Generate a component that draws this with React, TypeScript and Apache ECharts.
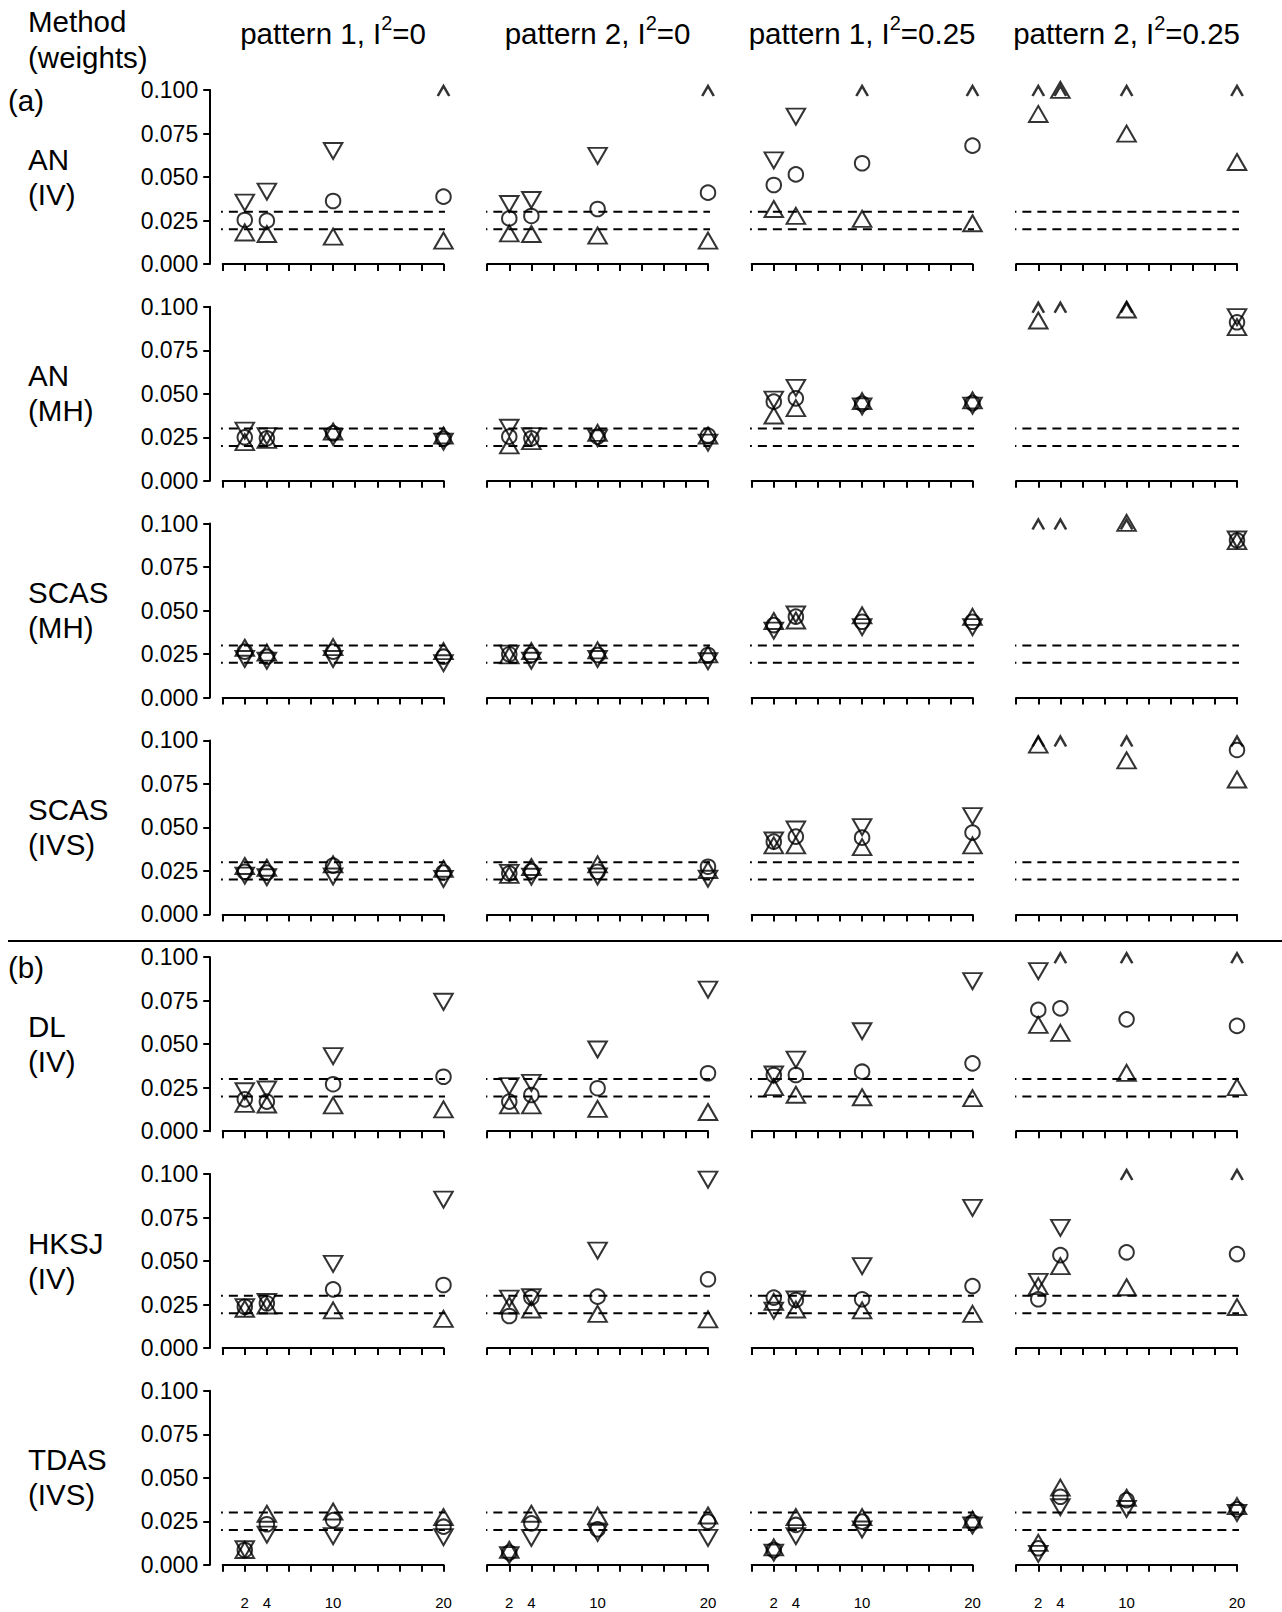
import { useEffect, useRef } from "react";
import * as echarts from "echarts";

// ---------------- data ----------------
const OFF = 0.12; // value above the plotted range, drawn as "^" at the top edge

const xValues = [2, 4, 10, 20];
const xLabelValues = [2, 4, 10, 20];
const xRange = [0, 20];
const xStep = 2;
const yRange = [0, 0.1];
const yStep = 0.025;
const refLines = [0.02, 0.03];

const scenarioNames = [
  "pattern 1, I{sup|2}=0",
  "pattern 2, I{sup|2}=0",
  "pattern 1, I{sup|2}=0.25",
  "pattern 2, I{sup|2}=0.25",
];
const methodNames = ["AN", "AN", "SCAS", "SCAS", "DL", "HKSJ", "TDAS"];
const weightNames = ["(IV)", "(MH)", "(MH)", "(IVS)", "(IV)", "(IV)", "(IVS)"];

// each array: one row per scenario (4), one value per number of studies (2,4,10,20)
const anIvCircle = [
  [0.0253, 0.0249, 0.0362, 0.0387],
  [0.0262, 0.0276, 0.0316, 0.041],
  [0.0454, 0.0515, 0.0579, 0.068],
  [OFF, OFF, OFF, OFF],
];
const anIvUp = [
  [0.0166, 0.0157, 0.0142, 0.0119],
  [0.0161, 0.0157, 0.0148, 0.0119],
  [0.0301, 0.0261, 0.0244, 0.0219],
  [0.0847, 0.0985, 0.0734, 0.0571],
];
const anIvDown = [
  [0.0368, 0.0431, 0.0665, OFF],
  [0.036, 0.0383, 0.0637, OFF],
  [0.0611, 0.0862, OFF, OFF],
  [OFF, OFF, OFF, OFF],
];

const anMhCircle = [
  [0.025, 0.0244, 0.0273, 0.0242],
  [0.0254, 0.0244, 0.0254, 0.026],
  [0.0455, 0.0474, 0.0443, 0.0447],
  [OFF, OFF, OFF, 0.0911],
];
const anMhUp = [
  [0.0207, 0.022, 0.0268, 0.0245],
  [0.0188, 0.0213, 0.026, 0.0245],
  [0.036, 0.0402, 0.0443, 0.0447],
  [0.0906, OFF, 0.0969, 0.0868],
];
const anMhDown = [
  [0.0304, 0.0272, 0.0268, 0.024],
  [0.032, 0.0272, 0.026, 0.0235],
  [0.0482, 0.0549, 0.0443, 0.0447],
  [OFF, OFF, OFF, 0.0956],
];

const scasMhCircle = [
  [0.0264, 0.0235, 0.0264, 0.0235],
  [0.0249, 0.0245, 0.0245, 0.0245],
  [0.0417, 0.0465, 0.0436, 0.0436],
  [OFF, OFF, OFF, 0.0904],
];
const scasMhUp = [
  [0.0271, 0.0243, 0.0275, 0.0252],
  [0.0227, 0.0252, 0.0256, 0.0233],
  [0.0425, 0.0428, 0.0457, 0.0449],
  [OFF, OFF, 0.0989, 0.0884],
];
const scasMhDown = [
  [0.0237, 0.0227, 0.0237, 0.0213],
  [0.0268, 0.0227, 0.0237, 0.0224],
  [0.04, 0.0493, 0.042, 0.042],
  [OFF, OFF, OFF, 0.0924],
];

const scasIvsCircle = [
  [0.0245, 0.024, 0.028, 0.0241],
  [0.0236, 0.0249, 0.0245, 0.0274],
  [0.0418, 0.0447, 0.0441, 0.047],
  [OFF, OFF, OFF, 0.0945],
];
const scasIvsUp = [
  [0.0263, 0.0253, 0.0272, 0.0247],
  [0.0212, 0.0257, 0.0272, 0.024],
  [0.0381, 0.0381, 0.0371, 0.0381],
  [0.096, OFF, 0.087, 0.076],
];
const scasIvsDown = [
  [0.0238, 0.0229, 0.0233, 0.0219],
  [0.0254, 0.0232, 0.0233, 0.022],
  [0.044, 0.0503, 0.0517, 0.058],
  [OFF, OFF, OFF, OFF],
];

const dlIvCircle = [
  [0.0183, 0.017, 0.027, 0.0313],
  [0.017, 0.0208, 0.0247, 0.0333],
  [0.0323, 0.0323, 0.0342, 0.039],
  [0.0697, 0.0706, 0.0643, 0.0605],
];
const dlIvUp = [
  [0.0142, 0.0138, 0.0133, 0.011],
  [0.0133, 0.0133, 0.0113, 0.0095],
  [0.0238, 0.0194, 0.018, 0.0175],
  [0.0596, 0.055, 0.032, 0.0238],
];
const dlIvDown = [
  [0.0245, 0.0255, 0.0447, 0.0759],
  [0.0274, 0.0293, 0.0485, 0.0829],
  [0.0341, 0.0427, 0.059, 0.0878],
  [0.0935, OFF, OFF, OFF],
];

const hksjIvCircle = [
  [0.0237, 0.0257, 0.0337, 0.0362],
  [0.0184, 0.0291, 0.0295, 0.0395],
  [0.029, 0.0276, 0.028, 0.0356],
  [0.028, 0.0534, 0.055, 0.054],
];
const hksjIvUp = [
  [0.021, 0.0229, 0.0201, 0.0152],
  [0.0229, 0.0206, 0.0181, 0.0149],
  [0.025, 0.0206, 0.0201, 0.0181],
  [0.034, 0.0455, 0.0334, 0.022],
];
const hksjIvDown = [
  [0.025, 0.028, 0.0499, 0.0868],
  [0.0299, 0.0307, 0.0575, 0.0983],
  [0.023, 0.0294, 0.0486, 0.0821],
  [0.0395, 0.0706, OFF, OFF],
];

const tdasIvsCircle = [
  [0.0085, 0.0233, 0.0257, 0.0219],
  [0.007, 0.0238, 0.0204, 0.0248],
  [0.0085, 0.0229, 0.0248, 0.0243],
  [0.0095, 0.0391, 0.0372, 0.0319],
];
const tdasIvsUp = [
  [0.007, 0.0278, 0.0291, 0.0259],
  [0.0071, 0.0278, 0.0268, 0.0268],
  [0.0085, 0.0259, 0.0259, 0.0245],
  [0.0111, 0.0428, 0.037, 0.0322],
];
const tdasIvsDown = [
  [0.0105, 0.0189, 0.018, 0.0174],
  [0.0071, 0.017, 0.0199, 0.017],
  [0.0085, 0.018, 0.0218, 0.0241],
  [0.0078, 0.0346, 0.0336, 0.0313],
];

const circleRows = [anIvCircle, anMhCircle, scasMhCircle, scasIvsCircle, dlIvCircle, hksjIvCircle, tdasIvsCircle];
const upRows = [anIvUp, anMhUp, scasMhUp, scasIvsUp, dlIvUp, hksjIvUp, tdasIvsUp];
const downRows = [anIvDown, anMhDown, scasMhDown, scasIvsDown, dlIvDown, hksjIvDown, tdasIvsDown];

// ---------------- layout ----------------
const FONT = '"Liberation Sans", Arial, Helvetica, sans-serif';
const PANEL_X0 = 222.7;
const PANEL_DX = 264.5;
const PANEL_W = 220.8;
const ROW_Y0 = 90;
const ROW_DY = 216.8;
const PANEL_H = 174;
const TRI_W = 18.5;
const TRI_H = 16;
const LW = 2;
const AXW = 2;

function buildOption() {
  const grid: any[] = [];
  const xAxis: any[] = [];
  const yAxis: any[] = [];
  const series: any[] = [];
  const nRows = methodNames.length;
  const nCols = scenarioNames.length;
  const hollow = { color: "none", borderColor: "#000", borderWidth: LW };

  for (let r = 0; r < nRows; r++) {
    for (let c = 0; c < nCols; c++) {
      const k = grid.length;
      grid.push({
        left: PANEL_X0 + c * PANEL_DX,
        top: ROW_Y0 + r * ROW_DY,
        width: PANEL_W,
        height: PANEL_H,
        outerBoundsMode: "none",
      });
      xAxis.push({
        gridIndex: k,
        type: "value",
        min: xRange[0],
        max: xRange[1],
        interval: xStep,
        axisLine: { show: true, onZero: false, lineStyle: { color: "#000", width: AXW } },
        axisTick: { show: true, length: 7, lineStyle: { color: "#000", width: AXW } },
        axisLabel: {
          show: r === nRows - 1,
          margin: 30,
          fontSize: 15,
          color: "#000",
          fontFamily: FONT,
          formatter: (v: number) => (xLabelValues.includes(v) ? String(v) : ""),
        },
        splitLine: { show: false },
      });
      yAxis.push({
        gridIndex: k,
        type: "value",
        min: yRange[0],
        max: yRange[1],
        interval: yStep,
        show: c === 0,
        offset: 12.5,
        axisLine: { show: true, onZero: false, lineStyle: { color: "#000", width: AXW } },
        axisTick: { show: true, length: 7, lineStyle: { color: "#000", width: AXW } },
        axisLabel: {
          margin: 12,
          fontSize: 23,
          color: "#000",
          fontFamily: FONT,
          formatter: (v: number) => v.toFixed(3),
        },
        splitLine: { show: false },
      });

      for (const ref of refLines) {
        series.push({
          type: "line",
          xAxisIndex: k,
          yAxisIndex: k,
          data: [
            [xRange[0] - 0.8, ref],
            [xRange[1] + 0.8, ref],
          ],
          symbol: "none",
          clip: false,
          silent: true,
          lineStyle: { color: "#000", width: 2, type: [9, 6] },
        });
      }

      const circ = circleRows[r][c];
      const up = upRows[r][c];
      const down = downRows[r][c];
      const inRange = (arr: number[]) =>
        xValues.map((x, i) => [x, arr[i]]).filter((p) => p[1] <= yRange[1]);

      series.push({
        type: "scatter",
        xAxisIndex: k,
        yAxisIndex: k,
        data: inRange(circ),
        symbol: "circle",
        symbolSize: 14.5,
        itemStyle: hollow,
        clip: false,
        silent: true,
      });
      series.push({
        type: "scatter",
        xAxisIndex: k,
        yAxisIndex: k,
        data: inRange(up),
        symbol: "triangle",
        symbolSize: [TRI_W, TRI_H],
        symbolOffset: [0, -TRI_H / 6],
        itemStyle: hollow,
        clip: false,
        silent: true,
      });
      series.push({
        type: "scatter",
        xAxisIndex: k,
        yAxisIndex: k,
        data: inRange(down),
        symbol: "triangle",
        symbolRotate: 180,
        symbolSize: [TRI_W, TRI_H],
        symbolOffset: [0, TRI_H / 6],
        itemStyle: hollow,
        clip: false,
        silent: true,
      });
      const over = xValues
        .filter((_, i) => circ[i] > yRange[1] || up[i] > yRange[1] || down[i] > yRange[1])
        .map((x) => [x, yRange[1]]);
      series.push({
        type: "scatter",
        xAxisIndex: k,
        yAxisIndex: k,
        data: over,
        symbol: "path://M0,10L5.5,0L11,10",
        symbolSize: [11.5, 10],
        symbolOffset: [0, 1],
        itemStyle: { color: "none", borderColor: "#000", borderWidth: 2.4 },
        clip: false,
        silent: true,
      });
    }
  }

  const graphic: any[] = [];
  const bigText = (text: string, x: number, y: number, align = "left", extra: any = {}) => ({
    type: "text",
    x,
    y,
    silent: true,
    style: {
      text,
      fontFamily: FONT,
      fontSize: 29.5,
      fill: "#000",
      align,
      verticalAlign: "middle",
      ...extra,
    },
  });
  graphic.push(bigText("Method", 28, 21));
  graphic.push(bigText("(weights)", 28, 57));
  graphic.push(bigText("(a)", 8, 100));
  graphic.push(bigText("(b)", 8, 967));
  scenarioNames.forEach((s, c) => {
    graphic.push(
      bigText(s, PANEL_X0 + c * PANEL_DX + PANEL_W / 2, 33, "center", {
        fontSize: 29.5,
        lineHeight: 40,
        rich: { sup: { fontSize: 20, lineHeight: 20, verticalAlign: "top", fontFamily: FONT, fill: "#000" } },
      })
    );
  });
  methodNames.forEach((m, r) => {
    graphic.push(bigText(m, 28, 159 + r * ROW_DY));
    graphic.push(bigText(weightNames[r], 28, 194 + r * ROW_DY));
  });
  graphic.push({
    type: "line",
    silent: true,
    shape: { x1: 8, y1: 941, x2: 1282, y2: 941 },
    style: { stroke: "#000", lineWidth: 1.8 },
  });

  return {
    animation: false,
    backgroundColor: "#fff",
    grid,
    xAxis,
    yAxis,
    series,
    graphic,
  };
}

export default function App() {
  const ref = useRef<HTMLDivElement>(null);
  useEffect(() => {
    if (!ref.current) return;
    const chart = echarts.init(ref.current, undefined, { renderer: "svg" });
    chart.setOption(buildOption() as any);
    return () => chart.dispose();
  }, []);
  return (
    <div
      ref={ref}
      style={{ position: "absolute", left: 0, top: 0, width: 1282, height: 1612, background: "#fff" }}
    />
  );
}
